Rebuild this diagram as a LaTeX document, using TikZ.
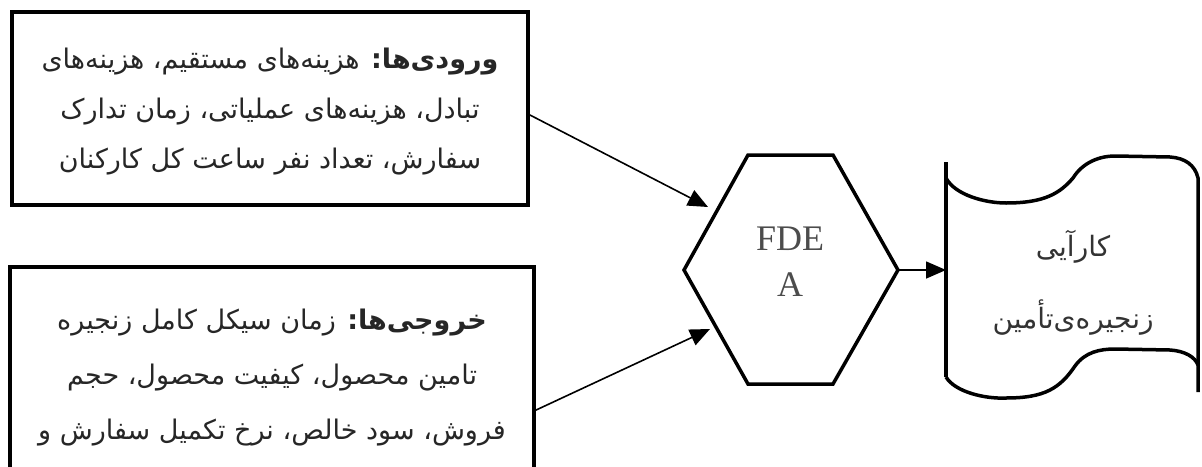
\documentclass[tikz,border=0pt]{standalone}
\usepackage{fontspec}
\setmainfont{Liberation Serif}
\newfontfamily\arabicfont[Script=Arabic]{DejaVu Sans}
\TeXXeTstate=1
\usetikzlibrary{arrows.meta}
\tikzset{
  boxline/.style={line width=3.5pt},
  conn/.style={line width=1.6pt,-{Triangle[length=20pt,width=17pt]}},
  fatext/.style={align=center,font=\arabicfont\fontsize{27}{50}\selectfont,text=black!85},
}
\begin{document}
\begin{tikzpicture}[x=1pt,y=-1pt]
\useasboundingbox (0,0) rectangle (1202,466);
% input box
\draw[boxline] (12,12) rectangle (528,205);
\node[fatext] (in) at (270,112) {\beginR\textbf{ورودی‌ها:} هزینه‌های مستقیم، هزینه‌های\endR\\
\beginR تبادل، هزینه‌های عملیاتی، زمان تدارک\endR\\
\beginR سفارش، تعداد نفر ساعت کل کارکنان\endR};
\coordinate (inR) at (528,114);
% output box
\draw[boxline] (10,267) rectangle (534,490);
\node[fatext,font=\arabicfont\fontsize{27}{55}\selectfont] (out) at (272,378) {\beginR\textbf{خروجی‌ها:} زمان سیکل کامل زنجیره\endR\\
\beginR تامین محصول، کیفیت محصول، حجم\endR\\
\beginR فروش، سود خالص، نرخ تکمیل سفارش و\endR};
\coordinate (outR) at (534,411);
% hexagon
\draw[boxline,line join=miter] (748,155) -- (833,155) -- (898,270) -- (833,384) -- (748,384) -- (684,270) -- cycle;
\node[font=\fontsize{36}{46}\selectfont,text=black!70,align=center] (fdea) at (790,262) {FDE\\A};
\coordinate (hexT) at (708,207);
\coordinate (hexB) at (710,329);
\coordinate (hexR) at (898,270);
% document shape
\draw[boxline] (946,162) -- (946,377);
\draw[boxline] (946,178) .. controls (955,195) and (985,203) .. (1006,203) .. controls (1045,203) and (1060,193) .. (1073,178) .. controls (1083,162) and (1100,156) .. (1115,156) -- (1170,157) .. controls (1185,158) and (1195,165) .. (1198,178) -- (1198,392);
\draw[boxline] (946,377) .. controls (955,392) and (985,399) .. (1006,398) .. controls (1045,398) and (1060,388) .. (1075,366) .. controls (1085,352) and (1100,349) .. (1115,349) -- (1170,350) .. controls (1185,351) and (1195,357) .. (1198,365);
\coordinate (docL) at (946,270);
\node[font=\arabicfont\fontsize{28}{72}\selectfont,text=black!80,align=center] (perf) at (1073,283) {\beginR کارآیی\endR\\ \beginR زنجیره‌ی‌تأمین\endR};
% connectors
\draw[conn] (inR) -- (hexT);
\draw[conn] (outR) -- (hexB);
\draw[conn] (hexR) -- (docL);
\end{tikzpicture}
\end{document}
